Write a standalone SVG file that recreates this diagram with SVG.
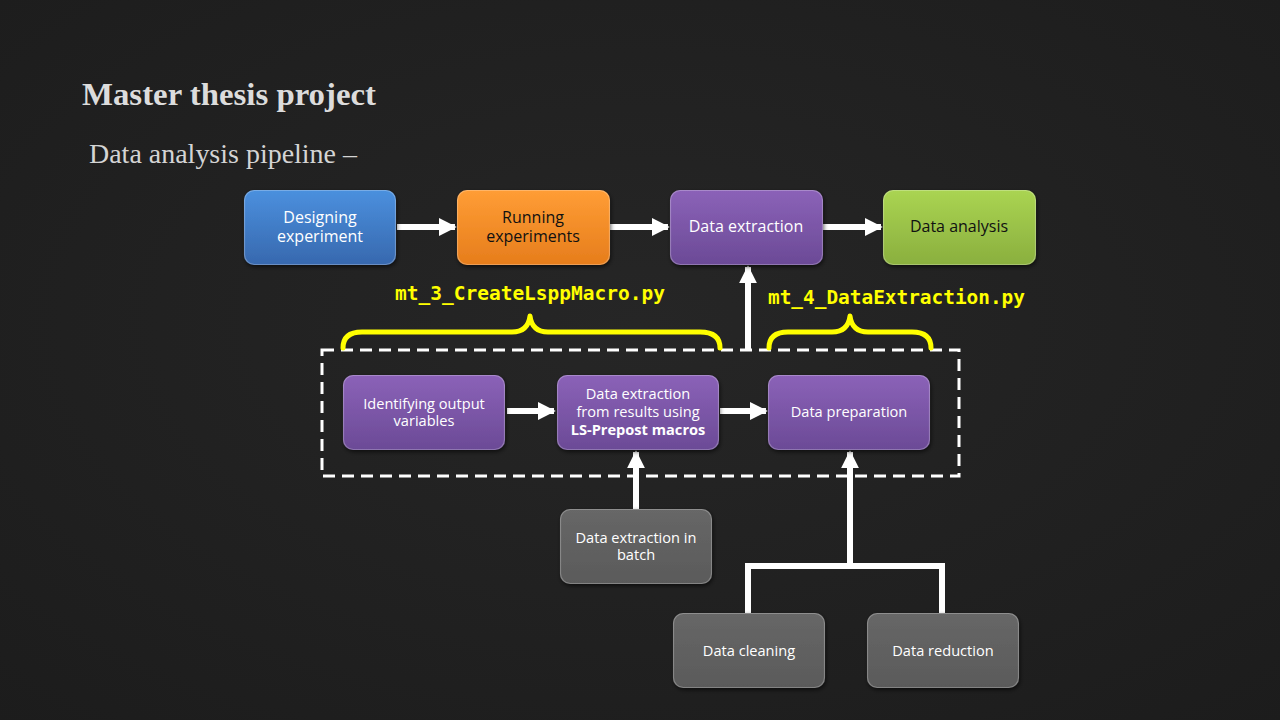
<svg xmlns="http://www.w3.org/2000/svg" width="1280" height="720" viewBox="0 0 1280 720">
  <defs>
    <radialGradient id="bg" cx="50%" cy="45%" r="75%">
      <stop offset="0" stop-color="#262626"/>
      <stop offset="1" stop-color="#1c1c1c"/>
    </radialGradient>
    <linearGradient id="gBlue" x1="0" y1="0" x2="0" y2="1">
      <stop offset="0" stop-color="#4b90de"/>
      <stop offset="1" stop-color="#3768ae"/>
    </linearGradient>
    <linearGradient id="gOrange" x1="0" y1="0" x2="0" y2="1">
      <stop offset="0" stop-color="#ff9d35"/>
      <stop offset="1" stop-color="#e67d1c"/>
    </linearGradient>
    <linearGradient id="gPurple" x1="0" y1="0" x2="0" y2="1">
      <stop offset="0" stop-color="#8b62b8"/>
      <stop offset="1" stop-color="#6b4a96"/>
    </linearGradient>
    <linearGradient id="gGreen" x1="0" y1="0" x2="0" y2="1">
      <stop offset="0" stop-color="#aad452"/>
      <stop offset="1" stop-color="#8aaf3e"/>
    </linearGradient>
    <linearGradient id="gGray" x1="0" y1="0" x2="0" y2="1">
      <stop offset="0" stop-color="#676767"/>
      <stop offset="1" stop-color="#5a5a5a"/>
    </linearGradient>
    <filter id="shadow" x="-10%" y="-10%" width="125%" height="130%">
      <feDropShadow dx="1" dy="2" stdDeviation="2" flood-color="#000" flood-opacity="0.6"/>
    </filter>
    <marker id="head" viewBox="0 0 10 10" refX="9" refY="5" markerWidth="3" markerHeight="3.2" orient="auto" markerUnits="strokeWidth">
      <path d="M0,0 L10,5 L0,10 Z" fill="#fff"/>
    </marker>
  </defs>
  <style>
    .box { filter: url(#shadow); }
    .hl { fill: none; stroke: #fff; stroke-opacity: 0.25; stroke-width: 1.2; }
    .lbl { font-family: "Open Sans", "DejaVu Sans", sans-serif; text-anchor: middle; }
    .top { font-size: 16px; }
    .inner { font-size: 14.6px; }
    .light { fill: #ffffff; }
    .dark { fill: #111111; }
    .conn { stroke: #fff; stroke-width: 6; fill: none; }
    .brace { stroke: #ffff00; stroke-width: 5; fill: none; stroke-linecap: round; stroke-linejoin: round; }
    .code { font-family: "DejaVu Sans Mono", "Liberation Mono", monospace; font-weight: bold; font-size: 19px; fill: #ffff00; }
  </style>

  <rect width="1280" height="720" fill="url(#bg)"/>

  <text x="82" y="105" font-family="Liberation Serif, serif" font-weight="bold" font-size="31" fill="#dcdcdc" textLength="294" lengthAdjust="spacingAndGlyphs">Master thesis project</text>
  <text x="89" y="163" font-family="Liberation Serif, serif" font-size="27" fill="#d4d4d4" textLength="268" lengthAdjust="spacingAndGlyphs">Data analysis pipeline –</text>

  <!-- connectors -->
  <g id="connectors">
    <line class="conn" x1="397" y1="227" x2="455" y2="227" marker-end="url(#head)"/>
    <line class="conn" x1="610" y1="227" x2="668" y2="227" marker-end="url(#head)"/>
    <line class="conn" x1="823" y1="227" x2="881" y2="227" marker-end="url(#head)"/>
    <line class="conn" x1="748" y1="351" x2="748" y2="267" marker-end="url(#head)"/>
    <line class="conn" x1="507" y1="411" x2="554" y2="411" marker-end="url(#head)"/>
    <line class="conn" x1="720" y1="411" x2="766" y2="411" marker-end="url(#head)"/>
    <line class="conn" x1="636" y1="509" x2="636" y2="452" marker-end="url(#head)"/>
    <line class="conn" x1="850" y1="566" x2="850" y2="452" marker-end="url(#head)"/>
    <path class="conn" d="M748,613 V566 H942 V613"/>
  </g>

  <!-- script scope group -->
  <g id="scope">
    <rect x="322" y="350" width="637" height="126" fill="none" stroke="#fff" stroke-width="3" stroke-dasharray="12 7"/>
  </g>

  <g id="braces">
    <path class="brace" d="M343,348 Q343,332 362,332 H512 Q528,332 530,316 Q532,332 548,332 H700 Q720,332 720,348"/>
    <path class="brace" d="M769,348 Q769,332 788,332 H832 Q848,332 850,316 Q852,332 868,332 H912 Q931,332 931,348"/>
    <text class="code" x="530" y="300" text-anchor="middle" textLength="270" lengthAdjust="spacingAndGlyphs">mt_3_CreateLsppMacro.py</text>
    <text class="code" x="768" y="304" textLength="257" lengthAdjust="spacingAndGlyphs">mt_4_DataExtraction.py</text>
  </g>

  <!-- top row -->
  <g id="designing">
    <rect class="box" x="244" y="190" width="152" height="75" rx="10" fill="url(#gBlue)"/>
    <rect class="hl" x="244.5" y="190.5" width="151" height="74" rx="10"/>
    <text class="lbl top light" x="320" y="223">Designing<tspan x="320" dy="19">experiment</tspan></text>
  </g>
  <g id="running">
    <rect class="box" x="457" y="190" width="153" height="75" rx="10" fill="url(#gOrange)"/>
    <rect class="hl" x="457.5" y="190.5" width="152" height="74" rx="10"/>
    <text class="lbl top dark" x="533" y="223">Running<tspan x="533" dy="19">experiments</tspan></text>
  </g>
  <g id="extraction">
    <rect class="box" x="670" y="190" width="153" height="75" rx="10" fill="url(#gPurple)"/>
    <rect class="hl" x="670.5" y="190.5" width="152" height="74" rx="10"/>
    <text class="lbl top light" x="746" y="232">Data extraction</text>
  </g>
  <g id="analysis">
    <rect class="box" x="883" y="190" width="153" height="75" rx="10" fill="url(#gGreen)"/>
    <rect class="hl" x="883.5" y="190.5" width="152" height="74" rx="10"/>
    <text class="lbl top dark" x="959" y="232">Data analysis</text>
  </g>

  <!-- inner row -->
  <g id="identifying">
    <rect class="box" x="343" y="375" width="162" height="75" rx="10" fill="url(#gPurple)"/>
    <rect class="hl" x="343.5" y="375.5" width="161" height="74" rx="10"/>
    <text class="lbl inner light" x="424" y="409">Identifying output<tspan x="424" dy="17">variables</tspan></text>
  </g>
  <g id="lsprepost">
    <rect class="box" x="557" y="375" width="162" height="75" rx="10" fill="url(#gPurple)"/>
    <rect class="hl" x="557.5" y="375.5" width="161" height="74" rx="10"/>
    <text class="lbl inner light" x="638" y="399">Data extraction<tspan x="638" dy="18">from results using</tspan><tspan x="638" dy="18" font-weight="bold">LS-Prepost macros</tspan></text>
  </g>
  <g id="preparation">
    <rect class="box" x="768" y="375" width="162" height="75" rx="10" fill="url(#gPurple)"/>
    <rect class="hl" x="768.5" y="375.5" width="161" height="74" rx="10"/>
    <text class="lbl inner light" x="849" y="417">Data preparation</text>
  </g>

  <!-- supporting steps -->
  <g id="batch">
    <rect class="box" x="560" y="509" width="152" height="75" rx="10" fill="url(#gGray)"/>
    <rect class="hl" x="560.5" y="509.5" width="151" height="74" rx="10"/>
    <text class="lbl inner light" x="636" y="543">Data extraction in<tspan x="636" dy="17">batch</tspan></text>
  </g>
  <g id="cleaning">
    <rect class="box" x="673" y="613" width="152" height="75" rx="10" fill="url(#gGray)"/>
    <rect class="hl" x="673.5" y="613.5" width="151" height="74" rx="10"/>
    <text class="lbl inner light" x="749" y="656">Data cleaning</text>
  </g>
  <g id="reduction">
    <rect class="box" x="867" y="613" width="152" height="75" rx="10" fill="url(#gGray)"/>
    <rect class="hl" x="867.5" y="613.5" width="151" height="74" rx="10"/>
    <text class="lbl inner light" x="943" y="656">Data reduction</text>
  </g>
</svg>
